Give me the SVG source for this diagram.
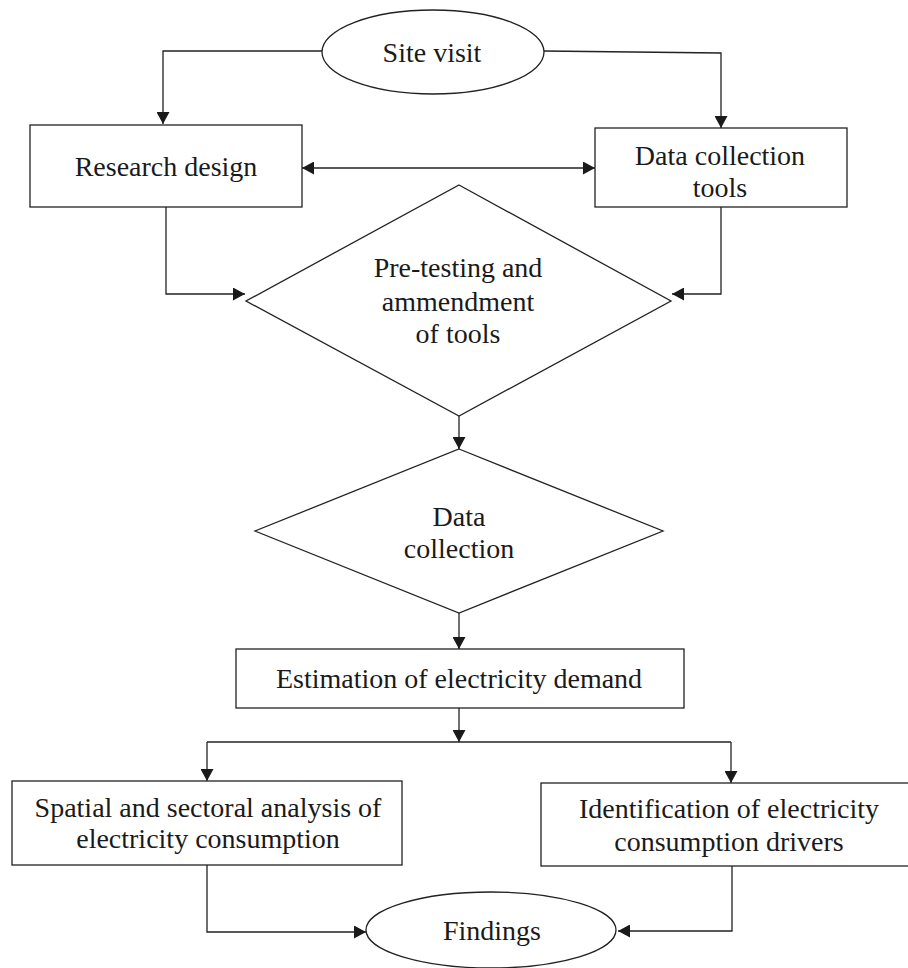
<svg xmlns="http://www.w3.org/2000/svg" width="908" height="968" viewBox="0 0 908 968">
<defs>
<style>
.shape{fill:#fff;stroke:#222;stroke-width:1.3}
.conn{fill:none;stroke:#222;stroke-width:1.3}
text{font-family:"Liberation Serif","Times New Roman",serif;font-size:28px;fill:#1a1a1a;text-anchor:middle}
</style>
<marker id="ah" markerUnits="userSpaceOnUse" markerWidth="13" markerHeight="13" refX="12" refY="6.5" orient="auto-start-reverse" viewBox="0 0 13 13">
<path d="M0,0 L12,6.5 L0,13 Z" fill="#1a1a1a"/>
</marker>
</defs>
<rect width="908" height="968" fill="#fff"/>
<g id="connectors">
<path class="conn" d="M322,51 H163 V124" marker-end="url(#ah)"/>
<path class="conn" d="M544,51 L721,53 V128" marker-end="url(#ah)"/>
<path class="conn" d="M302,168 H595" marker-start="url(#ah)" marker-end="url(#ah)"/>
<path class="conn" d="M166,207 V294 H245" marker-end="url(#ah)"/>
<path class="conn" d="M721,207 V294 H672" marker-end="url(#ah)"/>
<path class="conn" d="M459,416 V449" marker-end="url(#ah)"/>
<path class="conn" d="M459,613 V649" marker-end="url(#ah)"/>
<path class="conn" d="M459,708 V742" marker-end="url(#ah)"/>
<path class="conn" d="M207,742 H731"/>
<path class="conn" d="M207,742 V781" marker-end="url(#ah)"/>
<path class="conn" d="M731,742 V783" marker-end="url(#ah)"/>
<path class="conn" d="M207,865 V932 H366" marker-end="url(#ah)"/>
<path class="conn" d="M732,866 V931 H618" marker-end="url(#ah)"/>
</g>
<g id="site-visit">
<ellipse class="shape" cx="433" cy="52" rx="111" ry="42"/>
<text x="432" y="62">Site visit</text>
</g>
<g id="research-design">
<rect class="shape" x="30" y="125" width="272" height="82"/>
<text x="166" y="176">Research design</text>
</g>
<g id="data-collection-tools">
<rect class="shape" x="595" y="128" width="252" height="79"/>
<text x="720" y="165">Data collection</text>
<text x="720" y="197">tools</text>
</g>
<g id="pre-testing">
<polygon class="shape" points="459,185 671,301 459,416 246,301"/>
<text x="458" y="277">Pre-testing and</text>
<text x="458" y="311">ammendment</text>
<text x="458" y="343">of tools</text>
</g>
<g id="data-collection">
<polygon class="shape" points="459,449 663,531 459,613 255,531"/>
<text x="459" y="526">Data</text>
<text x="459" y="558">collection</text>
</g>
<g id="estimation">
<rect class="shape" x="236" y="649" width="448" height="59"/>
<text x="459" y="688">Estimation of electricity demand</text>
</g>
<g id="spatial">
<rect class="shape" x="12" y="781" width="390" height="84"/>
<text x="208" y="817">Spatial and sectoral analysis of</text>
<text x="208" y="848">electricity consumption</text>
</g>
<g id="identification">
<rect class="shape" x="541" y="783" width="380" height="83"/>
<text x="729" y="818">Identification of electricity</text>
<text x="729" y="851">consumption drivers</text>
</g>
<g id="findings">
<ellipse class="shape" cx="491" cy="930" rx="125" ry="38"/>
<text x="492" y="940">Findings</text>
</g>
</svg>
